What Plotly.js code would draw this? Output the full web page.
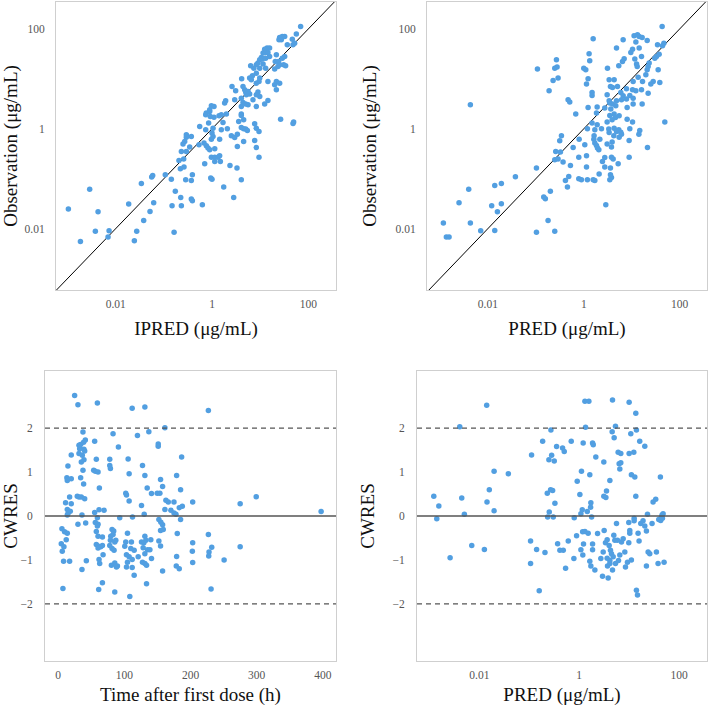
<!DOCTYPE html>
<html><head><meta charset="utf-8">
<script src="https://cdn.plot.ly/plotly-3.0.1.min.js"></script>
<style>html,body{margin:0;padding:0;background:#fff}#chart{width:709px;height:706px}</style>
</head><body><div id="chart"></div>
<script>
// Panel A: Observation vs IPRED
const ipred = [69.3,56.4,46.5,36.6,48.1,52.0,25.4,28.8,32.3,24.6,27.5,13.9,15.7,12.4,11.5,13.0,14.5,10.6,15.7,11.1,13.0,21.7,32.3,28.8,20.6,24.2,25.4,30.8,33.8,20.0,23.4,9.77,9.0,8.3,7.4,9.8,6.35,13.0,11.5,8.3,6.9,6.05,6.56,4.13,9.46,8.3,9.8,14.5,21.7,25.4,20.0,21.7,2.6,4.4,4.77,3.1,5.0,5.6,6.05,5.16,9.0,9.8,8.3,1.92,1.83,2.96,4.06,4.4,5.6,7.1,8.3,12.4,14.5,4.06,5.0,0.97,1.1,0.895,0.76,1.56,1.99,4.06,0.74,0.895,0.92,1.1,1.4,1.69,0.85,0.555,0.74,1.05,1.0,1.56,2.08,1.05,0.97,1.44,0.293,0.372,0.293,0.271,0.25,0.344,0.537,0.682,0.762,0.826,0.895,1.14,2.52,2.96,3.36,4.06,4.54,5.0,5.42,3.58,4.54,4.06,7.69,8.3,9.46,26.6,49.6,48.1,4.54,3.36,7.69,8.3,9.46,0.231,0.293,0.206,0.258,0.97,1.14,1.33,1.44,1.14,1.49,0.22,0.262,0.705,2.36,3.3,0.107,0.143,0.284,0.372,0.391,0.94,1.0,4.06,1.75,0.173,0.224,0.372,0.391,2.82,0.231,0.63,0.00104,0.00185,0.00288,0.00378,0.0043,0.00728,0.00693,0.0186,0.0244,0.0273,0.0341,0.0381,0.0516,0.0559,0.0586,0.0615,0.163,0.148];
const obsA = [112,78.9,62.5,48.2,48.2,52.0,67.6,70.8,70.8,60.7,60.7,41.3,41.3,39.4,32.8,33.8,33.8,26.9,28.1,24.9,26.0,30.4,28.1,26.0,22.3,22.3,19.1,19.1,18.3,15.7,17.7,24.1,20.7,19.1,16.4,16.4,18.3,16.4,19.8,13.0,11.5,10.4,9.6,10.0,8.87,8.2,10.4,8.87,8.87,8.2,7.6,6.04,7.05,7.05,6.04,5.77,5.43,5.6,4.95,4.8,5.43,4.45,4.8,3.64,3.27,3.81,4.1,3.37,3.03,3.81,2.8,3.12,3.7,2.8,3.12,2.89,2.8,2.4,2.06,1.9,1.97,1.97,1.9,2.22,1.77,1.71,1.82,1.34,1.3,1.11,0.955,1.03,0.82,0.955,1.0,0.70,0.62,0.62,0.76,0.70,0.68,0.557,0.493,0.43,0.478,0.516,0.456,0.41,0.38,0.397,0.724,0.67,0.78,1.06,1.0,0.985,0.926,1.40,1.51,1.85,1.26,1.03,0.885,1.56,1.36,1.28,0.557,0.443,0.583,0.423,0.27,0.351,0.351,0.232,0.247,0.27,0.27,0.27,0.288,0.222,0.222,0.158,0.171,0.199,0.184,0.163,0.12,0.098,0.095,0.092,0.12,0.103,0.098,0.095,0.068,0.056,0.042,0.039,0.036,0.042,0.0287,0.030,0.0246,0.00553,0.0618,0.0089,0.0217,0.00905,0.00676,0.031,0.0057,0.0089,0.0803,0.0146,0.0221,0.1076,0.116,0.033,0.0085,0.0287];

// Panel B: Observation vs PRED
const pred = [43.1,1.57,6.62,11.2,13.2,14.3,16.5,21,12.2,34.5,46.8,43.9,4.81,10.4,14.3,9.57,1.29,1.33,6.95,6.41,5.37,12.6,13,23.1,22,16,11.6,30.3,32.9,37.3,3.12,0.269,0.248,0.277,0.108,1.0,1.1,35.6,21,19.7,13.6,0.291,0.229,1.23,3.38,4.3,16.8,10.7,28,25,38.5,1.14,3.6,3.97,5.04,7.77,10.4,12.2,16,22,5.92,0.189,1.49,1.49,3.07,6.62,9.12,10.7,0.471,0.51,3.38,4.81,6.11,7.77,3.49,3.97,4.65,10.7,16.5,1.23,1.9,2.74,8.02,3.66,0.68,1.84,4.3,3.49,5.46,4.58,8.02,10.4,3.9,3.07,49,1.49,1.9,1.19,1.7,2.34,3.32,4.3,5.37,3.38,4.81,5.92,6.11,9.12,14.7,14.1,4.23,5.46,8.83,21.3,0.342,0.315,0.80,1.64,1.62,2.16,1.05,1.7,1.84,1.93,2.06,3.07,3.9,3.78,0.60,0.26,0.326,0.248,0.291,0.37,0.103,1.14,0.787,2.74,3.78,4.1,8.83,2.45,5.21,0.527,1.14,2.74,3.6,0.486,0.414,0.787,0.894,1.19,1.57,1.7,2.09,3.6,3.78,3.49,0.456,0.201,0.146,0.158,2.88,0.00431,0.00118,0.00136,0.00155,0.0025,0.00398,0.00431,0.00708,0.012,0.0139,0.0139,0.0158,0.0191,0.0191,0.0375,0.103,0.18,0.248];
const obsB = [112,63.5,60.7,73,76.4,70.8,67.6,58.9,54.5,48.2,52,46,41.3,39.4,41.3,33.8,31.8,23,25.3,22.3,18.3,19.8,17.7,20.7,17.7,28.1,24.9,26,28.1,31.3,16.4,24.1,16.4,17.2,15.7,16.4,15.2,15.2,15.2,12.1,10.8,10.4,9.3,10,9.6,9.6,8.87,8.87,8.87,7.85,8.47,7.85,7.05,6.73,7.05,6.33,6.04,5.77,6.04,5.18,5.35,5.77,5.35,4.65,4.8,4.58,4.65,4.11,3.81,3.42,3.64,3.64,3.81,3.93,3.27,3.12,2.89,3.12,3.12,2.68,2.72,2.6,2.68,2.48,1.97,2.06,1.97,1.85,1.82,1.69,1.56,1.36,1.51,1.36,1.36,1.3,1.2,1.0,0.955,1.0,0.985,1.03,0.955,0.845,0.885,0.857,0.78,1.0,0.926,0.78,0.724,0.68,0.583,0.423,0.724,0.575,0.62,0.724,0.62,0.62,0.478,0.516,0.463,0.41,0.38,0.493,0.541,0.43,0.423,0.351,0.341,0.239,0.247,0.215,0.163,0.288,0.27,0.267,0.27,0.247,0.27,0.222,0.199,0.184,0.171,0.171,0.163,0.111,0.092,0.0996,0.095,0.095,0.095,0.092,0.124,0.12,0.106,0.095,0.068,0.056,0.0428,0.0396,0.030,3.03,0.0129,0.00676,0.00676,0.033,0.0618,0.0129,0.00905,0.0287,0.0732,0.0092,0.0217,0.0314,0.0803,0.109,0.0085,0.0146,0.0089];

// Panel C: CWRES vs time after first dose
const timeAfterDose = [24.8,29.8,59.2,111.8,131,37.4,82.9,119.8,137,41,38.4,55.1,33.9,31.4,38.9,32.4,40,19.7,31.4,36.4,38.9,34.9,57.6,77.9,91,105.7,14.7,77.9,78.9,127.4,37.4,53.6,56.1,60.2,107.2,131,13.1,19.7,13.7,33.9,38.4,62.2,134.5,141,102.1,103.2,17.2,28.8,31.4,34.9,40,107.2,11.1,19.7,125.9,13.7,18.2,14.7,13.7,55.1,61.7,69.3,130,35.9,59.2,93,112.3,
29.8,41.5,56.1,60.2,59.2,81.4,83.9,57.6,5.6,9.6,13.7,12.1,4.6,8.6,6.1,60.2,66.8,79.4,82.9,78.9,87,85.5,104.7,102.1,110.7,131,132.5,125.9,140,129.5,57.6,61.2,64.2,66.8,60.2,77.9,81.4,84.4,67.8,100.6,109.7,114.8,128.4,135,138.6,131,120.9,103.2,107.2,111.8,104.7,127.4,131,141,8.1,17.2,42.5,61.7,62.7,80.4,85.5,88,89.5,103.2,111.8,133.5,35.9,114.8,66.8,61.2,85.5,7.1,133.5,108.2,
227,161.3,151.2,151.2,186.6,179,154.7,157.8,185,149.7,153.7,162.8,166.4,175,203.3,275.1,299.4,161.3,170.4,175,178,183,187.6,397.5,152.2,155.2,157.8,158.8,154.7,185,180,227,152.2,154.7,203.3,232.1,275.1,202.8,228,227.6,179,203.3,250.8,178.5,183,157.8,231.1];
const cwresTime = [2.74,2.53,2.57,2.45,2.48,1.91,1.87,1.83,1.92,1.73,1.68,1.70,1.63,1.61,1.52,1.53,1.48,1.39,1.42,1.38,1.28,1.23,1.29,1.29,1.57,1.30,1.14,1.15,1.08,1.15,1.04,1.04,1.02,1.0,0.96,0.92,0.87,0.85,0.81,0.87,0.73,0.64,0.64,0.51,0.52,0.48,0.43,0.45,0.43,0.43,0.39,0.34,0.30,0.28,0.24,0.15,0.11,0.05,0.02,0.08,0.14,0.13,0.04,0.02,-0.04,-0.04,-0.02,
-0.19,-0.16,-0.15,-0.19,-0.23,-0.31,-0.34,-0.35,-0.29,-0.36,-0.39,-0.54,-0.63,-0.70,-0.80,-0.46,-0.48,-0.46,-0.42,-0.55,-0.55,-0.59,-0.39,-0.59,-0.59,-0.46,-0.55,-0.59,-0.54,-0.61,-0.65,-0.69,-0.70,-0.67,-0.73,-0.67,-0.74,-0.78,-0.88,-0.69,-0.74,-0.78,-0.72,-0.77,-0.77,-0.86,-0.93,-0.88,-0.93,-0.99,-1.05,-1.05,-1.08,-0.97,-1.03,-1.03,-1.02,-0.99,-1.08,-1.12,-1.07,-1.16,-1.14,-1.16,-1.17,-1.12,-1.22,-1.35,-1.52,-1.67,-1.73,-1.65,-1.54,-1.83,
2.40,2.01,1.64,1.59,1.34,0.92,0.83,0.67,0.60,0.52,0.52,0.36,0.32,0.32,0.32,0.28,0.44,0.15,0.13,0.07,0.04,0.19,0.22,0.10,-0.08,-0.14,-0.20,-0.31,-0.33,-0.08,-0.40,-0.42,-0.57,-0.68,-0.61,-0.71,-0.70,-0.80,-0.82,-0.91,-0.92,-1.06,-1.00,-1.14,-1.20,-1.25,-1.66];

// Panel D: CWRES vs PRED
const predD = [1.3,1.56,4.64,10,13.6,0.111,0.271,1.34,5.33,4.57,14,10.8,5.01,0.185,0.352,0.464,0.501,0.692,1.2,1.85,1.91,16.3,20.6,0.28,0.247,0.316,2.15,3.11,6.03,6.81,10,12.4,6.31,6.81,6.5,1.11,1.63,11.1,13,42.3,0.912,4.11,0.229,0.267,0.293,1.03,3.52,3.11,3.42,13.6,34.1,
0.00122,0.00154,0.0014,0.00259,0.00404,0.00443,0.005,0.00703,0.0142,0.0158,0.014,0.0197,0.0197,0.0126,0.038,0.106,0.106,0.14,0.158,0.206,0.233,0.251,0.302,0.326,0.369,0.41,0.479,0.533,0.603,0.794,0.885,0.782,1.08,1.15,1.08,1.17,1.22,1.18,1.3,1.45,1.51,1.63,1.71,1.69,1.71,1.77,1.85,1.85,2.06,2.33,2.71,2.93,3.02,3.16,3.36,3.63,3.63,3.69,3.8,3.98,4.11,4.11,4.23,4.43,4.64,4.79,4.93,5.17,5.33,5.58,5.84,6.12,6.5,7.03,7.59,8.19,8.45,9.26,9.84,9.84,10.3,10.3,11.1,12.6,12.6,14,14.7,15.1,17.1,15.8,19,20.6,22.2,23.3,24,25.9,22.2,28.8,30.2,35.2,38,39.2,42.9,44.4,46.4,45.7,47.9,50.1];
const cwresPred = [2.61,2.61,2.64,2.59,2.34,1.39,1.96,2.02,2.04,1.92,1.96,1.87,1.78,1.70,1.58,1.55,1.47,1.70,1.66,1.66,1.62,1.70,1.59,1.38,1.28,1.25,1.34,1.23,1.45,1.42,1.42,1.45,1.19,1.21,1.07,1.02,0.94,0.94,0.89,0.89,0.79,0.81,0.52,0.60,0.58,0.49,0.57,0.45,0.42,0.45,0.38,
0.45,0.23,-0.06,-0.95,2.03,0.41,0.04,-0.67,0.32,0.60,2.52,1.02,0.12,-0.76,0.96,-0.57,-1.08,-0.76,-1.70,-0.83,-0.02,0.09,-0.02,0.29,-0.63,-0.78,-0.78,-1.19,-0.57,-0.04,-0.45,-0.97,0.05,0.14,-0.77,-0.36,-0.64,-0.89,-0.35,0.10,-0.39,-1.03,-1.14,0.20,0.30,-0.02,-0.64,-0.77,-1.23,-0.40,-0.97,-1.37,-0.82,-0.33,-0.61,-0.54,-0.96,-1.14,-1.41,-0.67,-1.01,-1.08,-0.78,-0.86,-1.23,-0.93,-0.44,-0.55,-1.08,-0.17,-0.55,-1.01,-0.89,-0.59,-0.52,-0.82,-1.16,-1.05,-0.61,-0.15,-0.33,-0.39,-1.00,-0.11,-0.05,-1.69,-1.80,-0.39,-0.17,-0.57,-0.11,-0.23,-0.34,0.04,-0.82,-0.86,-1.14,-0.17,0.32,-0.82,-1.08,-0.08,-0.10,-0.02,-0.05,0.02,0.05,-1.05];

const logTickVals = [0.01, 1, 100];
const logTickText = ['0.01', '1', '100'];
const timeTickVals = [0, 100, 200, 300, 400];
const cwresTickVals = [-2, -1, 0, 1, 2];
const identityLine = [1e-5, 1e5];
const cwresRefLines = [-2, 0, 2];

const FONT = '"Liberation Serif", "Times New Roman", serif';
const dotColor = '#529FE1';

function pts(x, y, xa, ya) {
  return {x: x, y: y, xaxis: xa, yaxis: ya, type: 'scatter', mode: 'markers',
    marker: {color: dotColor, size: 5.5, line: {width: 0}}, showlegend: false, hoverinfo: 'x+y'};
}
function idLine(xa, ya) {
  return {x: identityLine, y: identityLine, xaxis: xa, yaxis: ya, type: 'scatter', mode: 'lines',
    line: {color: '#000', width: 1}, showlegend: false, hoverinfo: 'skip'};
}
const data = [
  idLine('x', 'y'), pts(ipred, obsA, 'x', 'y'),
  idLine('x2', 'y2'), pts(pred, obsB, 'x2', 'y2'),
  pts(timeAfterDose, cwresTime, 'x3', 'y3'),
  pts(predD, cwresPred, 'x4', 'y4')
];

function ax(extra) {
  return Object.assign({
    showgrid: false, zeroline: false, showline: true, mirror: true,
    linecolor: '#cfcfcf', linewidth: 1, ticks: '',
    tickfont: {family: FONT, size: 11.5, color: '#555'},
    automargin: false, fixedrange: true
  }, extra);
}
function ttl(text, standoff) {
  return {text: text, font: {family: FONT, size: 19, color: '#111'}, standoff: standoff};
}
const W = 709, H = 706;
const dx = (a, b) => [a / W, b / W];
const dy = (top, bot) => [1 - bot / H, 1 - top / H];

const shapes = [];
['y3', 'y4'].forEach((ya, i) => {
  const xa = i === 0 ? 'x3' : 'x4';
  cwresRefLines.forEach(v => {
    shapes.push({type: 'line', xref: xa + ' domain', x0: 0, x1: 1, yref: ya, y0: v, y1: v,
      line: v === 0 ? {color: '#555', width: 1.6} : {color: '#555', width: 1.3, dash: '5px,4px'}});
  });
});

const layout = {
  width: W, height: H, margin: {l: 0, r: 0, t: 0, b: 0},
  paper_bgcolor: '#fff', plot_bgcolor: '#fff',
  font: {family: FONT},
  showlegend: false,
  xaxis: ax({domain: dx(56, 336), anchor: 'y', type: 'log', range: [-3.24, 2.575],
    tickvals: logTickVals, ticktext: logTickText, ticklabelstandoff: 3, title: ttl('IPRED (μg/mL)', 12)}),
  yaxis: ax({domain: dy(2, 290), anchor: 'x', type: 'log', range: [-3.23, 2.54],
    tickvals: logTickVals, ticktext: logTickText, ticklabelstandoff: 8, title: ttl('Observation (μg/mL)', 13)}),
  xaxis2: ax({domain: dx(427, 707), anchor: 'y2', type: 'log', range: [-3.27, 2.57],
    tickvals: logTickVals, ticktext: logTickText, ticklabelstandoff: 3, title: ttl('PRED (μg/mL)', 12)}),
  yaxis2: ax({domain: dy(2, 290), anchor: 'x2', type: 'log', range: [-3.23, 2.54],
    tickvals: logTickVals, ticktext: logTickText, ticklabelstandoff: 8, title: ttl('Observation (μg/mL)', 13)}),
  xaxis3: ax({domain: dx(45, 336), anchor: 'y3', range: [-20, 420],
    tickvals: timeTickVals, ticklabelstandoff: 3, title: ttl('Time after first dose (h)', 10)}),
  yaxis3: ax({domain: dy(371, 661), anchor: 'x3', range: [-3.3, 3.3],
    tickvals: cwresTickVals, ticklabelstandoff: 9, title: ttl('CWRES', 12)}),
  xaxis4: ax({domain: dx(417, 707), anchor: 'y4', type: 'log', range: [-3.25, 2.56],
    tickvals: logTickVals, ticktext: logTickText, ticklabelstandoff: 3, title: ttl('PRED (μg/mL)', 10)}),
  yaxis4: ax({domain: dy(371, 661), anchor: 'x4', range: [-3.3, 3.3],
    tickvals: cwresTickVals, ticklabelstandoff: 9, title: ttl('CWRES', 12)}),
  shapes: shapes
};
Plotly.newPlot('chart', data, layout, {displayModeBar: false, staticPlot: true});
</script></body></html>
